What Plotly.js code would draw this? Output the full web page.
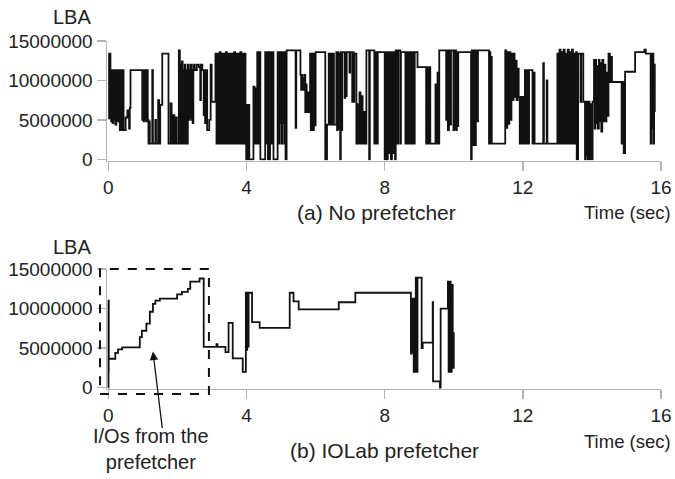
<!DOCTYPE html>
<html>
<head>
<meta charset="utf-8">
<script src="https://cdn.plot.ly/plotly-3.0.1.min.js"></script>
<style>html,body{margin:0;padding:0;background:#fff;}#chart{width:675px;height:479px;}</style>
</head>
<body>
<div id="chart"></div>
<script>
// ---- Data (time in seconds, LBA) ----
// (a) No prefetcher
const timeNoPf = [
  0.00,0.02,0.04,0.06,0.08,0.10,0.12,0.14,0.16,0.18,0.20,0.23,0.26,0.30,0.33,0.36,0.38,0.42,0.44,0.50,0.55,0.60,0.62,0.64,
  0.98,1.00,1.02,1.04,1.06,1.08,1.10,1.12,1.14,1.16,1.18,1.20,1.27,1.29,1.36,1.38,1.44,1.47,1.50,1.56,1.74,1.80,1.83,1.88,1.91,1.95,1.98,2.04,2.07,2.09,2.11,2.13,2.15,2.17,2.19,2.21,2.23,2.25,2.27,2.30,
  2.32,2.34,2.36,2.38,2.40,2.42,2.44,2.46,2.50,2.56,2.62,2.66,2.68,2.72,2.76,2.78,2.80,2.83,2.86,2.92,2.96,2.99,3.10,
  3.13,3.16,3.19,3.22,3.25,3.28,3.31,
  3.34,3.37,3.40,3.43,3.46,3.49,3.52,
  3.55,3.58,3.61,3.64,3.67,3.70,3.73,
  3.76,3.79,3.82,3.85,3.88,3.91,3.94,
  3.97,3.99,4.02,4.04,4.06,4.08,4.20,4.23,4.26,4.29,4.31,4.34,4.37,4.40,4.54,4.58,4.60,4.62,4.64,4.66,4.68,4.72,4.76,4.78,
  4.90,4.93,4.95,4.97,4.99,5.01,5.03,5.05,5.07,5.09,5.11,5.13,5.16,5.42,5.44,5.56,5.58,5.60,5.62,5.64,5.66,5.68,5.70,5.72,5.74,5.76,5.80,5.84,5.86,5.89,5.92,5.95,5.97,6.00,6.28,6.33,6.38,6.41,6.44,6.47,6.50,6.53,
  6.56,6.60,6.62,6.64,6.66,6.68,6.71,6.73,6.75,6.77,6.84,6.86,6.88,6.90,6.98,7.00,7.06,7.08,7.10,7.12,7.18,7.21,7.24,7.27,7.30,7.33,7.36,7.39,7.42,7.47,7.55,7.57,7.70,7.72,7.74,7.76,7.78,7.80,
  8.00,8.03,8.06,8.09,8.12,8.15,8.18,8.21,8.24,8.27,8.30,8.32,8.37,8.39,8.45,8.47,8.60,8.63,8.66,8.69,8.72,8.75,8.78,8.81,8.84,8.87,8.95,9.20,9.23,9.26,9.29,9.32,9.47,9.50,9.53,9.56,9.58,
  9.78,9.80,9.83,9.86,9.88,9.92,9.99,10.01,10.03,10.05,10.07,10.09,10.11,10.13,10.50,10.52,10.55,10.58,10.61,10.64,10.67,10.70,11.02,11.04,11.06,11.08,11.10,
  11.49,11.52,11.55,11.58,11.61,11.64,11.67,11.70,11.73,11.76,11.79,11.82,11.85,11.88,11.91,11.94,11.97,12.00,12.03,12.06,12.09,12.12,12.15,12.18,12.28,12.31,12.34,12.59,12.61,12.69,12.71,
  13.00,13.03,13.06,13.09,13.12,13.15,13.18,13.21,13.24,13.27,13.30,13.33,13.36,13.39,13.42,13.45,13.48,13.51,13.54,
  13.56,13.60,13.67,13.69,13.75,13.80,13.82,13.84,13.86,13.88,13.90,13.93,13.95,14.00,14.02,14.06,14.08,14.10,14.12,14.15,14.17,14.20,14.22,14.25,14.27,14.30,14.33,14.36,14.39,14.42,14.45,14.48,
  14.52,14.56,14.58,14.86,14.89,14.92,14.96,15.25,15.52,15.56,15.70,15.72,15.74,15.76,15.78,15.80,15.82
];
const lbaNoPf = [
  13.4e6,5.2e6,13.4e6,11.3e6,4.8e6,11.3e6,4.6e6,11.3e6,5.0e6,11.3e6,4.4e6,11.3e6,4.8e6,11.3e6,3.7e6,11.3e6,3.7e6,11.3e6,3.7e6,5.3e6,6.2e6,3.9e6,6.5e6,11.3e6,
  5.0e6,11.3e6,4.8e6,11.3e6,5.0e6,11.3e6,4.8e6,11.3e6,5.0e6,2.0e6,4.8e6,2.0e6,11.3e6,2.0e6,5.0e6,2.0e6,7.5e6,2.0e6,6.9e6,13.4e6,2.0e6,7.1e6,2.0e6,5.6e6,2.0e6,5.3e6,2.0e6,13.8e6,2.0e6,12.0e6,2.0e6,12.4e6,2.0e6,11.3e6,2.0e6,12.0e6,2.0e6,11.3e6,2.0e6,12.0e6,
  5.0e6,11.3e6,5.3e6,12.0e6,5.0e6,11.3e6,4.6e6,12.0e6,11.3e6,12.0e6,11.7e6,7.5e6,12.0e6,11.3e6,5.6e6,11.3e6,4.6e6,11.3e6,3.7e6,5.0e6,12.0e6,7.3e6,13.4e6,
  2.0e6,13.4e6,2.0e6,13.6e6,2.0e6,13.4e6,2.0e6,
  13.4e6,2.0e6,13.6e6,2.0e6,13.4e6,2.0e6,13.4e6,
  2.0e6,13.4e6,2.0e6,13.6e6,2.0e6,13.4e6,2.0e6,
  13.4e6,2.0e6,13.6e6,2.0e6,13.4e6,2.0e6,13.4e6,
  2.0e6,0,6.9e6,0,6.9e6,0,9.2e6,2.0e6,9.0e6,2.0e6,13.6e6,2.0e6,13.6e6,0,13.6e6,2.0e6,13.6e6,0,13.6e6,0,13.6e6,2.0e6,13.6e6,0,
  13.6e6,2.0e6,13.6e6,4.6e6,13.6e6,2.0e6,13.6e6,4.6e6,13.6e6,2.0e6,13.6e6,0,13.8e6,4.0e6,13.8e6,10.7e6,8.8e6,10.7e6,8.8e6,10.3e6,8.8e6,10.7e6,6.0e6,9.5e6,6.0e6,8.5e6,6.0e6,13.4e6,3.7e6,13.4e6,3.7e6,13.4e6,4.3e6,13.6e6,0,4.4e6,13.4e6,4.4e6,13.4e6,4.4e6,13.4e6,4.4e6,
  4.4e6,13.6e6,3.7e6,13.6e6,3.9e6,13.4e6,0,13.6e6,3.7e6,13.6e6,7.8e6,13.6e6,8.0e6,13.6e6,11.0e6,13.6e6,7.3e6,13.6e6,7.3e6,13.4e6,2.0e6,7.0e6,2.0e6,8.5e6,2.0e6,8.0e6,2.0e6,6.0e6,2.0e6,13.8e6,0,13.8e6,2.0e6,13.6e6,2.0e6,13.6e6,2.0e6,13.6e6,
  0,13.6e6,0,13.6e6,0.8e6,13.6e6,0,13.6e6,0.8e6,13.6e6,0,13.8e6,2.0e6,13.8e6,2.0e6,13.6e6,2.0e6,13.6e6,2.0e6,13.6e6,2.0e6,13.6e6,2.0e6,13.6e6,2.0e6,13.6e6,11.7e6,2.0e6,11.7e6,2.0e6,11.7e6,2.0e6,9.5e6,2.0e6,11.0e6,2.0e6,13.8e6,
  5.0e6,13.8e6,3.7e6,13.8e6,4.4e6,13.8e6,3.7e6,13.8e6,3.9e6,13.8e6,3.7e6,13.6e6,4.2e6,13.6e6,0,13.8e6,1.8e6,13.8e6,1.8e6,13.8e6,4.8e6,13.8e6,2.0e6,13.6e6,2.0e6,13.0e6,2.0e6,
  13.8e6,4.0e6,13.6e6,4.5e6,13.6e6,5.0e6,13.4e6,7.5e6,13.4e6,7.9e6,12.5e6,7.5e6,11.5e6,7.9e6,2.0e6,7.9e6,2.0e6,7.9e6,2.0e6,11.3e6,2.0e6,11.3e6,2.0e6,11.3e6,2.0e6,11.0e6,2.0e6,12.2e6,2.0e6,10.0e6,2.0e6,
  13.4e6,2.0e6,13.9e6,2.0e6,13.6e6,2.0e6,13.9e6,2.0e6,13.4e6,2.0e6,13.9e6,2.0e6,13.6e6,2.0e6,13.9e6,2.0e6,13.4e6,2.0e6,13.6e6,
  0,13.4e6,7.3e6,13.4e6,7.3e6,0,7.3e6,0.5e6,7.3e6,0,7.3e6,0,7.0e6,0,7.3e6,12.6e6,3.9e6,12.6e6,4.6e6,11.8e6,3.9e6,12.6e6,4.8e6,12.2e6,3.5e6,12.6e6,4.8e6,12.0e6,4.8e6,11.0e6,5.5e6,13.4e6,
  9.8e6,13.0e6,9.8e6,2.0e6,9.8e6,0.8e6,11.1e6,13.6e6,13.9e6,13.4e6,2.0e6,13.4e6,4.0e6,13.4e6,2.0e6,12.0e6,6.0e6
];
// (b) IOLab prefetcher
const timeIOLab = [
  0.000,0.003,0.006,0.009,0.012,0.20,0.28,0.40,0.91,0.97,1.10,1.20,1.29,1.36,1.49,1.99,2.13,2.30,2.37,2.64,
  2.76,3.13,3.16,3.39,3.48,3.60,3.89,3.98,4.00,4.02,4.04,4.06,4.16,4.38,5.25,5.36,5.51,6.67,7.15,
  8.76,8.78,8.80,8.82,8.84,8.86,8.88,8.90,8.93,8.95,9.07,9.10,9.39,9.40,9.60,9.62,9.83,9.85,9.88,9.91,9.94,9.97,10.00
];
const lbaIOLab = [
  0,11.0e6,2.0e6,11.0e6,3.66e6,4.4e6,4.85e6,5.1e6,6.4e6,7.2e6,8.1e6,9.6e6,10.6e6,11.0e6,11.25e6,11.8e6,12.1e6,12.5e6,13.4e6,13.8e6,
  5.15e6,5.5e6,5.15e6,4.5e6,8.2e6,3.7e6,2.0e6,12.0e6,4.8e6,12.0e6,5.2e6,12.0e6,8.3e6,7.55e6,12.0e6,10.9e6,9.9e6,10.8e6,12.0e6,
  4.3e6,11.25e6,4.5e6,11.25e6,2.0e6,11.25e6,2.0e6,13.9e6,2.0e6,13.9e6,5.0e6,5.7e6,10.8e6,0.8e6,0,10.0e6,13.4e6,2.0e6,13.4e6,2.0e6,13.0e6,2.5e6,7.0e6
];
// Axis ticks and labels
const xTickVals = [0, 4, 8, 12, 16];
const xTickText = ['0', '4', '8', '12', '16'];
const yTickVals = [0, 5000000, 10000000, 15000000];
const yTickText = ['0', '5000000', '10000000', '15000000'];
const yAxisLabel = 'LBA';
const xAxisLabel = 'Time (sec)';
const captionA = '(a) No prefetcher';
const captionB = '(b) IOLab prefetcher';
const calloutText = 'I/Os from the<br>prefetcher';

if (timeNoPf.length !== lbaNoPf.length) console.error('top length mismatch', timeNoPf.length, lbaNoPf.length);
if (timeIOLab.length !== lbaIOLab.length) console.error('bottom length mismatch');

const lineStyle = {shape: 'hv', color: '#111111', width: 1.8};
const traces = [
  {x: timeNoPf, y: lbaNoPf, xaxis: 'x', yaxis: 'y', mode: 'lines', line: lineStyle, hoverinfo: 'skip'},
  {x: timeIOLab, y: lbaIOLab, xaxis: 'x2', yaxis: 'y2', mode: 'lines', line: lineStyle, hoverinfo: 'skip'}
];

const axisGray = '#b4b4b4';
function xAx(anchor) {
  return {anchor: anchor, domain: [0, 1], range: [-0.04, 16], tickvals: xTickVals, ticktext: xTickText,
    showline: true, linecolor: axisGray, linewidth: 1.5, ticks: 'outside', ticklen: 9, tickwidth: 1.5,
    tickcolor: axisGray, showgrid: false, zeroline: false, layer: 'below traces', fixedrange: true,
    tickfont: {size: 19, color: '#222'}};
}
function yAx(anchor, dom) {
  return {anchor: anchor, domain: dom, range: [-150000, 15000000], tickvals: yTickVals, ticktext: yTickText,
    showline: true, linecolor: axisGray, linewidth: 1.5, ticks: 'outside', ticklen: 9, tickwidth: 1.5,
    tickcolor: axisGray, showgrid: false, zeroline: false, layer: 'below traces', fixedrange: true,
    tickfont: {size: 19, color: '#222'}};
}

const txt = (t, x, y, size, xanchor, extra) => Object.assign({text: t, xref: 'paper', yref: 'paper', x: x, y: y,
  xanchor: xanchor, yanchor: 'middle', showarrow: false, font: {size: size, color: '#222'}}, extra || {});

const layout = {
  width: 675, height: 479,
  margin: {l: 107, r: 14, t: 0, b: 0, pad: 0},
  paper_bgcolor: '#ffffff', plot_bgcolor: '#ffffff',
  showlegend: false,
  font: {family: '"Liberation Sans", Arial, Helvetica, sans-serif', color: '#222', size: 19},
  xaxis: xAx('y'),
  yaxis: yAx('x', [0.6649, 0.9144]),
  xaxis2: xAx('y2'),
  yaxis2: yAx('x2', [0.1881, 0.4384]),
  annotations: [
    txt(yAxisLabel, -0.0632, 0.9645, 20, 'center'),
    txt(yAxisLabel, -0.0632, 0.4843, 20, 'center'),
    txt(captionA, 0.4865, 0.5574, 21, 'center'),
    txt(xAxisLabel, 1.0217, 0.5574, 18.5, 'right'),
    txt(captionB, 0.5018, 0.0585, 21, 'center'),
    txt(xAxisLabel, 1.0217, 0.0793, 18.5, 'right'),
    txt(calloutText, 0.0794, 0.0626, 20, 'center'),
    {text: '', xref: 'x2', yref: 'y2', x: 1.29, y: 4570000, ax: 9.5, ay: 78, showarrow: true,
      arrowhead: 2, arrowsize: 1.3, arrowwidth: 1.3, arrowcolor: '#111', standoff: 0}
  ],
  shapes: [
    {type: 'rect', xref: 'paper', yref: 'paper', x0: -0.0126, x1: 0.184, y0: 0.1775, y1: 0.4384,
      line: {color: '#111', width: 2, dash: 'dash'}, fillcolor: 'rgba(0,0,0,0)'}
  ]
};

Plotly.newPlot('chart', traces, layout, {staticPlot: true, displayModeBar: false});
</script>
</body>
</html>
